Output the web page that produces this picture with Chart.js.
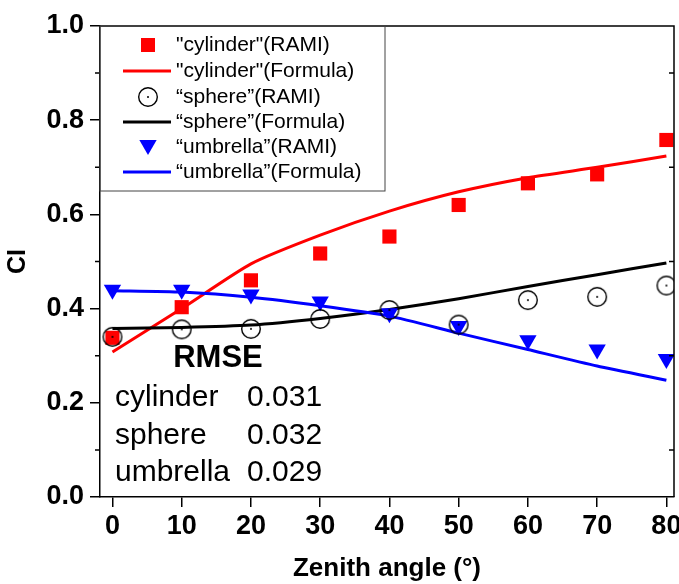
<!DOCTYPE html>
<html>
<head>
<meta charset="utf-8">
<script src="https://cdn.jsdelivr.net/npm/chart.js@4.4.1/dist/chart.umd.min.js"></script>
<style>
  html, body { margin: 0; background: #fff; overflow: hidden; }
  canvas { display: block; }
</style>
</head>
<body>
<!-- algo mas ancho que la ventana: el "80" queda cortado en el borde como en la figura -->
<canvas id="ciChart" width="685" height="584"></canvas>
<script>
// Angulos cenitales (grados)
const angles = [0, 10, 20, 30, 40, 50, 60, 70, 80];

// Valores CI
const cylinderRami    = [0.338, 0.403, 0.460, 0.517, 0.553, 0.620, 0.666, 0.685, 0.758];
const cylinderFormula = [0.308, 0.400, 0.495, 0.556, 0.607, 0.648, 0.678, 0.700, 0.724];
const sphereRami      = [0.340, 0.356, 0.357, 0.378, 0.397, 0.366, 0.418, 0.425, 0.449];
const sphereFormula   = [0.358, 0.360, 0.365, 0.379, 0.398, 0.421, 0.447, 0.472, 0.497];
const umbrellaRami    = [0.440, 0.440, 0.430, 0.415, 0.390, 0.363, 0.333, 0.313, 0.293];
const umbrellaFormula = [0.438, 0.435, 0.424, 0.406, 0.384, 0.348, 0.313, 0.278, 0.248];

// Etiquetas de ejes y leyenda
const xTicks = [0, 10, 20, 30, 40, 50, 60, 70, 80];
const yTicks = [0, 0.2, 0.4, 0.6, 0.8, 1.0];
const yMinorTicks = [0.1, 0.3, 0.5, 0.7, 0.9];
const legendLabels = [
    '"cylinder"(RAMI)',
    '"cylinder"(Formula)',
    '\u201Csphere\u201D(RAMI)',
    '\u201Csphere\u201D(Formula)',
    '\u201Cumbrella\u201D(RAMI)',
    '\u201Cumbrella\u201D(Formula)'
];
const rmseNames = ['cylinder', 'sphere', 'umbrella'];
const rmseValues = ['0.031', '0.032', '0.029'];

const FONT = '"Liberation Sans", Arial, sans-serif';
const RED = '#ff0000';
const BLUE = '#0000ff';

function toPoints(values) {
    return angles.map((a, i) => ({ x: a, y: values[i] }));
}

// Circulo abierto con punto central (estilo Origin)
function makeCircleMarker() {
    const c = document.createElement('canvas');
    c.width = 22; c.height = 22;
    const g = c.getContext('2d');
    g.strokeStyle = '#000';
    g.lineWidth = 1.4;
    g.beginPath(); g.arc(11, 11, 9.3, 0, Math.PI * 2); g.stroke();
    g.fillStyle = '#000';
    g.beginPath(); g.arc(11, 11, 1, 0, Math.PI * 2); g.fill();
    return c;
}
const circleMarker = makeCircleMarker();

function drawTriangleDown(ctx, x, y, r) {
    const w = r * Math.sqrt(3) / 2;
    ctx.beginPath();
    ctx.moveTo(x, y + r);
    ctx.lineTo(x - w, y - r / 2);
    ctx.lineTo(x + w, y - r / 2);
    ctx.closePath();
    ctx.fill();
}

// Marco, ticks menores, leyenda y texto RMSE
const extras = {
    id: 'extras',
    afterDraw(chart) {
        const { ctx, chartArea: a, scales: { y } } = chart;
        ctx.save();
        ctx.strokeStyle = '#000';
        ctx.lineWidth = 1.5;
        ctx.beginPath();
        ctx.moveTo(a.left, a.top);
        ctx.lineTo(a.right, a.top);
        ctx.lineTo(a.right, a.bottom);
        yMinorTicks.forEach(v => {
            const py = y.getPixelForValue(v);
            ctx.moveTo(a.left - 5, py); ctx.lineTo(a.left, py);
            ctx.moveTo(a.right - 5, py); ctx.lineTo(a.right, py);
        });
        ctx.stroke();

        // Leyenda
        ctx.strokeStyle = '#444';
        ctx.lineWidth = 1;
        ctx.strokeRect(a.left, a.top, 285, 165);
        const rowY = [45, 71, 97, 122, 147, 172];
        const mx = 148;
        ctx.font = '21px ' + FONT;
        ctx.textBaseline = 'middle';
        ctx.textAlign = 'left';
        legendLabels.forEach((label, i) => {
            const ry = rowY[i];
            if (i === 0) {
                ctx.fillStyle = RED;
                ctx.fillRect(mx - 7, ry - 7, 14, 14);
            } else if (i === 2) {
                ctx.drawImage(circleMarker, mx - 11, ry - 11);
            } else if (i === 4) {
                ctx.fillStyle = BLUE;
                drawTriangleDown(ctx, mx, ry - 2, 10);
            } else {
                ctx.strokeStyle = [RED, '#000', BLUE][(i - 1) / 2];
                ctx.lineWidth = 3;
                ctx.beginPath();
                ctx.moveTo(123, ry); ctx.lineTo(171, ry);
                ctx.stroke();
            }
            ctx.fillStyle = '#000';
            ctx.fillText(label, 176, ry);
        });

        // Bloque RMSE
        ctx.fillStyle = '#000';
        ctx.font = 'bold 31px ' + FONT;
        ctx.textAlign = 'center';
        ctx.fillText('RMSE', 218, 358);
        ctx.font = '30px ' + FONT;
        ctx.textAlign = 'left';
        const rmseY = [398, 436, 473];
        rmseNames.forEach((name, i) => {
            ctx.fillText(name, 115, rmseY[i]);
            ctx.fillText(rmseValues[i], 247, rmseY[i]);
        });
        ctx.restore();
    }
};

const ctx = document.getElementById('ciChart').getContext('2d');
new Chart(ctx, {
    type: 'scatter',
    data: {
        datasets: [
            {
                label: legendLabels[0],
                data: toPoints(cylinderRami),
                pointStyle: 'rect',
                pointRadius: 10,
                backgroundColor: RED,
                borderWidth: 0,
                order: 2
            },
            {
                label: legendLabels[1],
                data: toPoints(cylinderFormula),
                showLine: true,
                borderColor: RED,
                borderWidth: 3,
                pointRadius: 0,
                tension: 0.2,
                order: 5
            },
            {
                label: legendLabels[2],
                data: toPoints(sphereRami),
                pointStyle: circleMarker,
                pointRadius: 10,
                order: 0
            },
            {
                label: legendLabels[3],
                data: toPoints(sphereFormula),
                showLine: true,
                borderColor: '#000',
                borderWidth: 3,
                pointRadius: 0,
                tension: 0.2,
                order: 4
            },
            {
                label: legendLabels[4],
                data: toPoints(umbrellaRami),
                pointStyle: 'triangle',
                rotation: 180,
                pointRadius: 10,
                backgroundColor: BLUE,
                borderWidth: 0,
                order: 1
            },
            {
                label: legendLabels[5],
                data: toPoints(umbrellaFormula),
                showLine: true,
                borderColor: BLUE,
                borderWidth: 3,
                pointRadius: 0,
                tension: 0.2,
                order: 3
            }
        ]
    },
    options: {
        responsive: false,
        animation: false,
        layout: { padding: { top: 26, right: 0, left: 0, bottom: 0 } },
        plugins: {
            legend: { display: false },
            tooltip: { enabled: false }
        },
        scales: {
            x: {
                type: 'linear',
                min: -1.8,
                max: 81.1,
                afterBuildTicks: scale => { scale.ticks = xTicks.map(v => ({ value: v })); },
                afterFit: scale => { scale.height = 87; },
                grid: { drawOnChartArea: false, drawTicks: true, tickLength: 10, color: '#000', lineWidth: 1.5 },
                border: { color: '#000', width: 1.5 },
                ticks: {
                    color: '#000',
                    padding: 3,
                    maxRotation: 0,
                    font: { family: FONT, size: 27, weight: 'bold' }
                },
                title: {
                    display: true,
                    text: 'Zenith angle (\u00B0)',
                    color: '#000',
                    padding: { top: 0, bottom: 0 },
                    font: { family: FONT, size: 26, weight: 'bold' }
                }
            },
            y: {
                min: 0,
                max: 1,
                afterBuildTicks: scale => { scale.ticks = yTicks.map(v => ({ value: v })); },
                afterFit: scale => { scale.width = 100; },
                grid: { drawOnChartArea: false, drawTicks: true, tickLength: 10, color: '#000', lineWidth: 1.5 },
                border: { color: '#000', width: 1.5 },
                ticks: {
                    color: '#000',
                    padding: 6,
                    callback: v => v.toFixed(1),
                    font: { family: FONT, size: 27, weight: 'bold' }
                },
                title: {
                    display: true,
                    text: 'CI',
                    color: '#000',
                    padding: { top: 3, bottom: 0 },
                    font: { family: FONT, size: 25, weight: 'bold' }
                }
            }
        }
    },
    plugins: [extras]
});
</script>
</body>
</html>
